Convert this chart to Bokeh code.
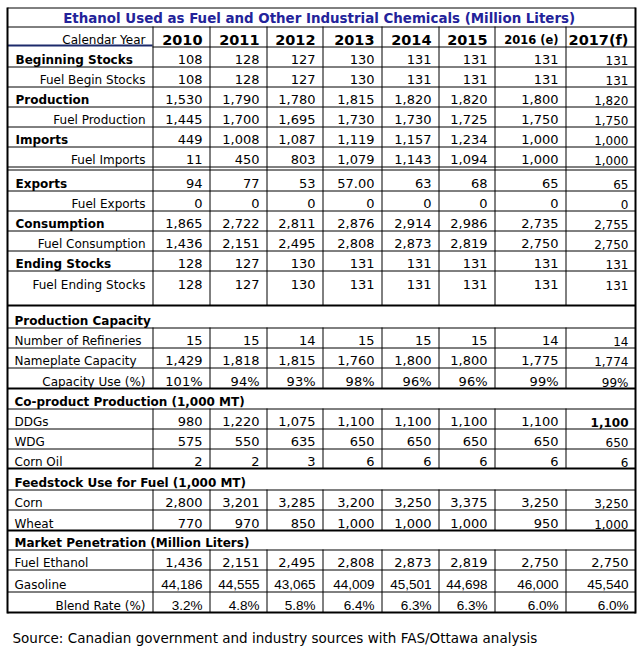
from bokeh.plotting import figure
from bokeh.models import ColumnDataSource, Range1d
from bokeh.embed import file_html
from bokeh.resources import INLINE

# ---------------- data ----------------
title_text = "Ethanol Used as Fuel and Other Industrial Chemicals  (Million Liters)"
source_text = "Source: Canadian government and industry sources with FAS/Ottawa analysis"
header_label = "Calendar Year"
years = ["2010", "2011", "2012", "2013", "2014", "2015", "2016 (e)", "2017(f)"]

beginning_stocks = ["108", "128", "127", "130", "131", "131", "131", "131"]
fuel_begin_stocks = ["108", "128", "127", "130", "131", "131", "131", "131"]
production = ["1,530", "1,790", "1,780", "1,815", "1,820", "1,820", "1,800", "1,820"]
fuel_production = ["1,445", "1,700", "1,695", "1,730", "1,730", "1,725", "1,750", "1,750"]
imports = ["449", "1,008", "1,087", "1,119", "1,157", "1,234", "1,000", "1,000"]
fuel_imports = ["11", "450", "803", "1,079", "1,143", "1,094", "1,000", "1,000"]
exports = ["94", "77", "53", "57.00", "63", "68", "65", "65"]
fuel_exports = ["0", "0", "0", "0", "0", "0", "0", "0"]
consumption = ["1,865", "2,722", "2,811", "2,876", "2,914", "2,986", "2,735", "2,755"]
fuel_consumption = ["1,436", "2,151", "2,495", "2,808", "2,873", "2,819", "2,750", "2,750"]
ending_stocks = ["128", "127", "130", "131", "131", "131", "131", "131"]
fuel_ending_stocks = ["128", "127", "130", "131", "131", "131", "131", "131"]

number_of_refineries = ["15", "15", "14", "15", "15", "15", "14", "14"]
nameplate_capacity = ["1,429", "1,818", "1,815", "1,760", "1,800", "1,800", "1,775", "1,774"]
capacity_use = ["101%", "94%", "93%", "98%", "96%", "96%", "99%", "99%"]

ddgs = ["980", "1,220", "1,075", "1,100", "1,100", "1,100", "1,100", "1,100"]
wdg = ["575", "550", "635", "650", "650", "650", "650", "650"]
corn_oil = ["2", "2", "3", "6", "6", "6", "6", "6"]

corn = ["2,800", "3,201", "3,285", "3,200", "3,250", "3,375", "3,250", "3,250"]
wheat = ["770", "970", "850", "1,000", "1,000", "1,000", "950", "1,000"]

fuel_ethanol = ["1,436", "2,151", "2,495", "2,808", "2,873", "2,819", "2,750", "2,750"]
gasoline = ["44,186", "44,555", "43,065", "44,009", "45,501", "44,698", "46,000", "45,540"]
blend_rate = ["3.2%", "4.8%", "5.8%", "6.4%", "6.3%", "6.3%", "6.0%", "6.0%"]

# label kind: "bold" = bold left, "sub" = regular right-aligned, "plain" = regular left
supply_rows = [
    ("Beginning Stocks", "bold", beginning_stocks),
    ("Fuel Begin Stocks", "sub", fuel_begin_stocks),
    ("Production", "bold", production),
    ("Fuel Production", "sub", fuel_production),
    ("Imports", "bold", imports),
    ("Fuel Imports", "sub", fuel_imports),
    ("Exports", "bold", exports),
    ("Fuel Exports", "sub", fuel_exports),
    ("Consumption", "bold", consumption),
    ("Fuel Consumption", "sub", fuel_consumption),
    ("Ending Stocks", "bold", ending_stocks),
    ("Fuel Ending Stocks", "sub", fuel_ending_stocks),
]
capacity_rows = [
    ("Number of Refineries", "plain", number_of_refineries),
    ("Nameplate Capacity", "plain", nameplate_capacity),
    ("Capacity Use (%)", "sub", capacity_use),
]
coproduct_rows = [
    ("DDGs", "plain", ddgs),
    ("WDG", "plain", wdg),
    ("Corn Oil", "plain", corn_oil),
]
feedstock_rows = [
    ("Corn", "plain", corn),
    ("Wheat", "plain", wheat),
]
market_rows = [
    ("Fuel Ethanol", "plain", fuel_ethanol),
    ("Gasoline", "plain", gasoline),
    ("Blend Rate (%)", "sub", blend_rate),
]

blocks = [
    (None, supply_rows),
    ("Production Capacity", capacity_rows),
    ("Co-product Production (1,000 MT)", coproduct_rows),
    ("Feedstock Use for Fuel (1,000 MT)", feedstock_rows),
    ("Market Penetration (Million Liters)", market_rows),
]

# ---------------- layout (page pixels) ----------------
W, H = 642, 648
col_edges = [7, 152, 209, 266, 322, 381, 438, 494, 565, 635]
table_top = 7
title_h = 19
header_h = 20
section_h = [None, 22, 20, 21, 19]
row_h = [
    [20, 20, 20, 20, 20, 20, 21, 20, 20, 20, 20, 35],
    [20, 20, 21],
    [20, 20, 20],
    [20, 21],
    [20, 22, 21],
]
double_gap_after = (0, 5)  # block 0, row 5 -> double rule
double_gap = 3
label_left = 15
sub_right = 145
val_pad = 7
TEXT_DY = -4  # renderer places alphabetic baseline a little low

FONT = "DejaVu Sans"
ARIAL = "Liberation Sans"
NAVY = "#23239a"

t = dict(x=[], y=[], text=[], align=[], font=[], size=[], style=[], color=[])
s = dict(x0=[], y0=[], x1=[], y1=[], w=[], c=[])


def add_text(x, y, text, align="left", font=FONT, size="12px", style="normal", color="#000000"):
    t["x"].append(x); t["y"].append(y + TEXT_DY); t["text"].append(text); t["align"].append(align)
    t["font"].append(font); t["size"].append(size); t["style"].append(style); t["color"].append(color)


def hline(y, x0, x1, w=1, c="#000000"):
    off = 0.5 if w % 2 == 1 else 0.0
    s["x0"].append(x0); s["x1"].append(x1); s["y0"].append(y + off); s["y1"].append(y + off)
    s["w"].append(w); s["c"].append(c)


def vline(x, y0, y1, w=1, c="#000000"):
    off = 0.5 if w % 2 == 1 else 0.0
    s["x0"].append(x + off); s["x1"].append(x + off); s["y0"].append(y0); s["y1"].append(y1)
    s["w"].append(w); s["c"].append(c)


left, right = col_edges[0], col_edges[-1]
inner = col_edges[1:-1]

# title
y = table_top
hline(y, left, right)
add_text((left + right) / 2, y + title_h - 4, title_text, align="center", size="13.4px",
         style="bold", color=NAVY)
y += title_h
hline(y, left, right)

# header
header_top = y
y += header_h
add_text(sub_right, y - 3, header_label, align="right", size="12px")
for j, yr in enumerate(years):
    add_text(col_edges[j + 2] - val_pad, y - 3, yr, align="right",
             size="11.5px" if "(e)" in yr else "14.5px", style="bold")
hline(y - 1, left, col_edges[1], w=2, c="#1c2a6b")
hline(y, col_edges[1], right)

for b, (sec_title, rows) in enumerate(blocks):
    if sec_title is None:
        v_top = header_top
    else:
        y += section_h[b]
        add_text(label_left - 1, y - 3, sec_title, size="12px", style="bold")
        hline(y, left, right)
        v_top = y
    for i, (label, kind, vals) in enumerate(rows):
        h = row_h[b][i]
        top = y
        y += h
        base = top + 18 if h > 25 else y - 3
        if kind == "bold":
            add_text(label_left, base, label, size="12px", style="bold")
        elif kind == "sub":
            add_text(sub_right, base, label, align="right", size="12px")
        else:
            add_text(label_left - 1, base, label, size="12px")
        arial = label in ("Gasoline", "Blend Rate (%)")
        small_last = b < 4
        for j, v in enumerate(vals):
            sz = "13.5px" if arial else "13px"
            st = "normal"
            last_col = j == len(vals) - 1
            if last_col and small_last:
                sz = "12px"
            if label == "DDGs" and last_col:
                st = "bold"
            add_text(col_edges[j + 2] - val_pad, base + (1 if (last_col and small_last) else 0),
                     v, align="right", font=ARIAL if arial else FONT, size=sz, style=st)
        if i == len(rows) - 1:
            hline(y, left, right, w=2)
        else:
            hline(y, left, right)
        if (b, i) == double_gap_after:
            y += double_gap
            hline(y, left, right)
    for xe in inner:
        vline(xe, v_top, y)

# outer borders
vline(left, table_top, y + 1, w=2)
vline(right, table_top, y + 1, w=2)

# source note
add_text(12, 641, source_text, size="13.5px")

# ---------------- figure ----------------
p = figure(width=W, height=H, x_range=Range1d(0, W), y_range=Range1d(H, 0),
           output_backend="svg", toolbar_location=None, min_border=0,
           x_axis_location=None, y_axis_location=None)
p.grid.visible = False
p.outline_line_color = None
p.background_fill_color = "white"
p.border_fill_color = "white"

p.segment(x0="x0", y0="y0", x1="x1", y1="y1", line_width="w", line_color="c",
          source=ColumnDataSource(s))
p.text(x="x", y="y", text="text", text_align="align", text_font="font",
       text_font_size="size", text_font_style="style", text_color="color",
       text_baseline="alphabetic", source=ColumnDataSource(t))

open("out.html", "w").write(file_html(p, INLINE))
